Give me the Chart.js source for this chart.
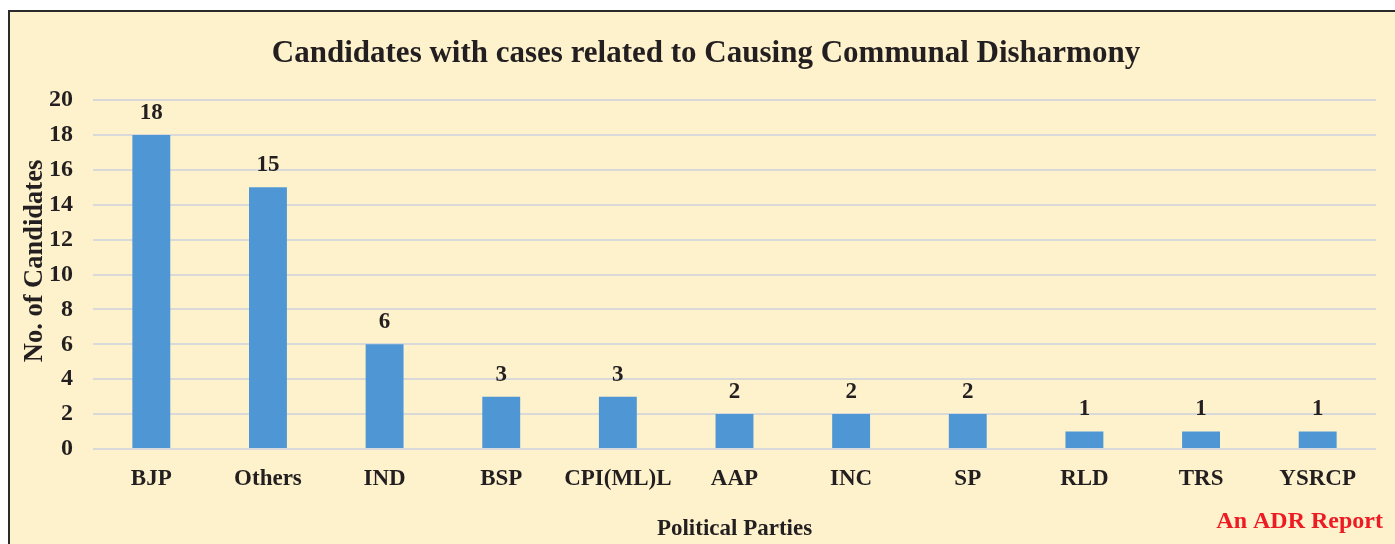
<!DOCTYPE html>
<html>
<head>
<meta charset="utf-8">
<script src="https://cdn.jsdelivr.net/npm/chart.js@4"></script>
<style>
html,body{margin:0;padding:0;background:#fff;}
#wrap{position:relative;width:1395px;height:544px;}
</style>
</head>
<body>
<div id="wrap"><canvas id="c" width="1395" height="544"></canvas></div>
<script>
const chartTitle = "Candidates with cases related to Causing Communal Disharmony";
const parties = ["BJP","Others","IND","BSP","CPI(ML)L","AAP","INC","SP","RLD","TRS","YSRCP"];
const candidates = [18,15,6,3,3,2,2,2,1,1,1];
const yTicks = [0,2,4,6,8,10,12,14,16,18,20];
const xAxisTitle = "Political Parties";
const yAxisTitle = "No. of Candidates";
const footnote = "An ADR Report";

const SERIF = "'Liberation Serif','Times New Roman',serif";
const TXT = "#231f20";

const framePlugin = {
  id: 'frame',
  beforeDraw(chart) {
    const ctx = chart.ctx;
    ctx.save();
    ctx.fillStyle = '#ffffff';
    ctx.fillRect(0,0,chart.width,chart.height);
    ctx.fillStyle = '#fdf2cc';
    ctx.fillRect(9,11,chart.width,chart.height);
    ctx.strokeStyle = '#2b2b2b';
    ctx.lineWidth = 2;
    ctx.beginPath();
    ctx.moveTo(9,chart.height+2);
    ctx.lineTo(9,11);
    ctx.lineTo(chart.width+2,11);
    ctx.stroke();
    ctx.restore();
  },
  afterDraw(chart) {
    const ctx = chart.ctx;
    ctx.save();
    ctx.textBaseline = 'middle';
    // chart title
    ctx.font = "bold 31px " + SERIF;
    ctx.fillStyle = TXT;
    ctx.textAlign = 'center';
    ctx.fillText(chartTitle, 706, 54);
    // footnote
    ctx.font = "bold 24px " + SERIF;
    ctx.fillStyle = '#ed1c24';
    ctx.textAlign = 'right';
    ctx.fillText(footnote, 1383, 522);
    // y axis title
    ctx.translate(35, 261);
    ctx.rotate(-Math.PI / 2);
    ctx.font = "bold 26.5px " + SERIF;
    ctx.fillStyle = TXT;
    ctx.textAlign = 'center';
    ctx.fillText(yAxisTitle, 0, 0);
    ctx.restore();
  }
};

const labelPlugin = {
  id: 'vlabels',
  afterDatasetsDraw(chart) {
    const ctx = chart.ctx;
    const meta = chart.getDatasetMeta(0);
    ctx.save();
    ctx.font = "bold 23px " + SERIF;
    ctx.fillStyle = TXT;
    ctx.textAlign = 'center';
    ctx.textBaseline = 'middle';
    meta.data.forEach((bar, i) => {
      ctx.fillText(String(candidates[i]), bar.x, bar.y - 22);
    });
    ctx.restore();
  }
};

new Chart(document.getElementById('c'), {
  type: 'bar',
  data: {
    labels: parties,
    datasets: [{
      data: candidates,
      backgroundColor: '#4e97d4',
      borderWidth: 0,
      barPercentage: 0.65,
      categoryPercentage: 0.5
    }]
  },
  options: {
    responsive: false,
    animation: false,
    devicePixelRatio: 1,
    layout: { padding: { left: 0, right: 19, top: 100, bottom: 0 } },
    plugins: {
      legend: { display: false },
      tooltip: { enabled: false },
      title: { display: false }
    },
    scales: {
      x: {
        grid: { display: false, drawTicks: false },
        border: { display: false },
        ticks: { color: TXT, font: { family: SERIF, size: 23, weight: 'bold' }, padding: 16, maxRotation: 0, autoSkip: false },
        title: { display: true, text: xAxisTitle, color: TXT, font: { family: SERIF, size: 23, weight: 'bold' }, padding: { top: 0, bottom: 1 } },
        afterFit(s) { s.height = 95; }
      },
      y: {
        min: 0, max: 20,
        afterBuildTicks(s) { s.ticks = yTicks.map(v => ({ value: v })); },
        grid: { color: '#d9d9d9', lineWidth: 2, drawTicks: false },
        border: { display: false },
        ticks: { color: TXT, font: { family: SERIF, size: 24, weight: 'bold' }, padding: 20 },
        title: { display: false, text: yAxisTitle },
        afterFit(s) { s.width = 93; }
      }
    }
  },
  plugins: [framePlugin, labelPlugin]
});
</script>
</body>
</html>
